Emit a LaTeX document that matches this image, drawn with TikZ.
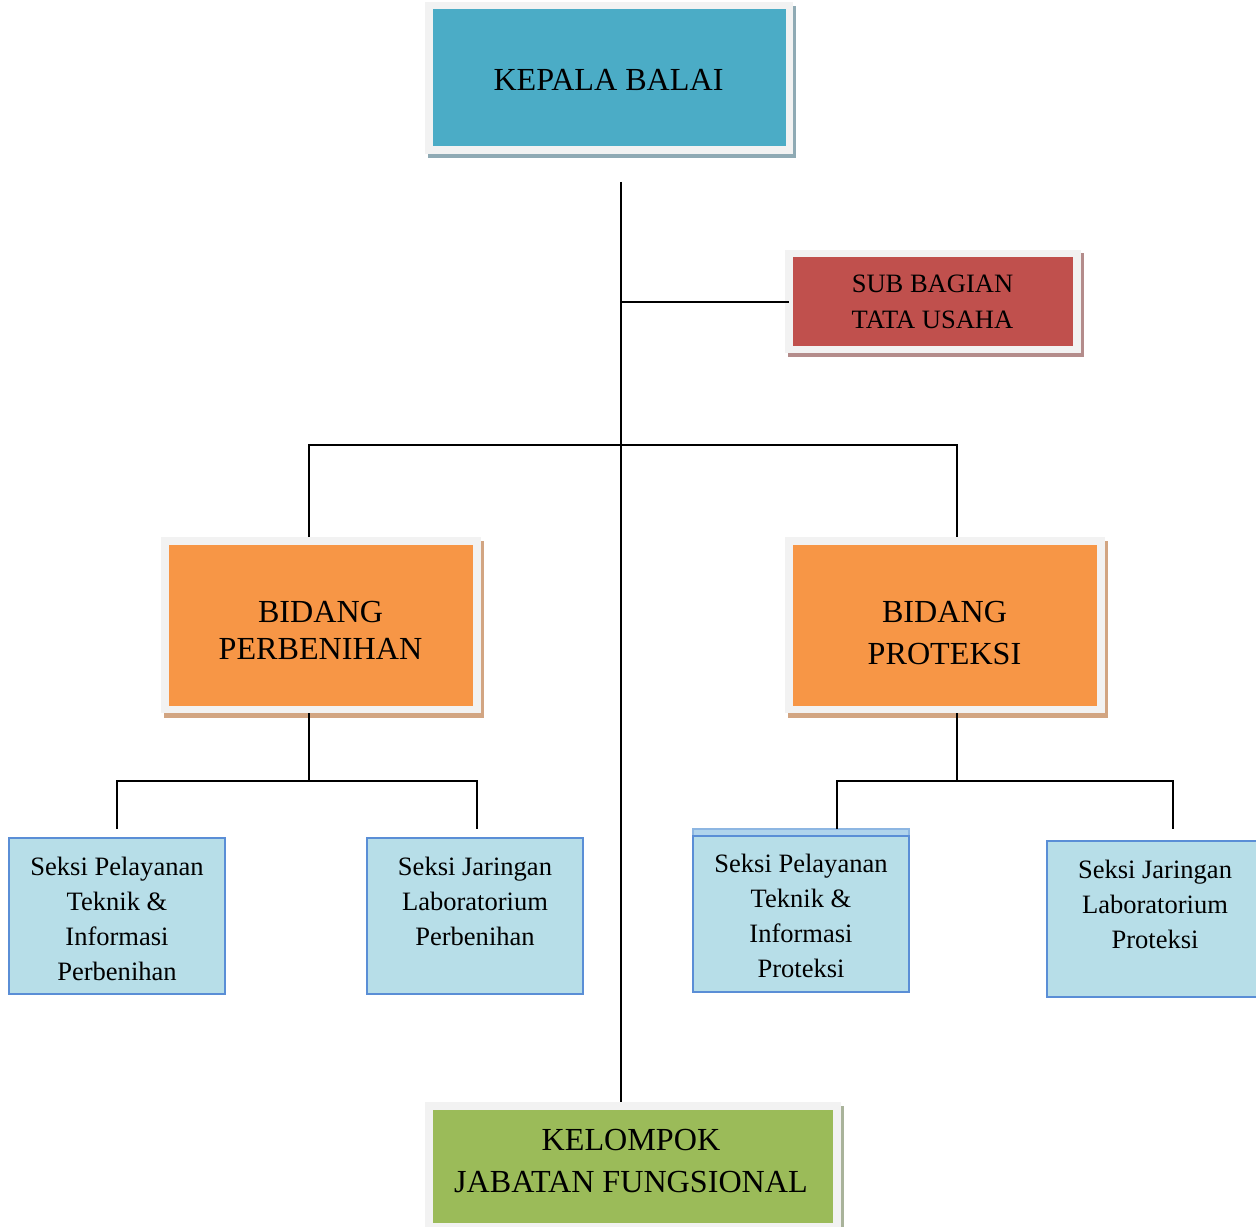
\documentclass[tikz,border=0pt]{standalone}
\usepackage{fontspec}
\setmainfont{Liberation Serif}
\definecolor{framegrey}{HTML}{F2F2F2}
\definecolor{kbblue}{HTML}{4BACC6}
\definecolor{kbshadow}{HTML}{8FAAB4}
\definecolor{sbred}{HTML}{C0504D}
\definecolor{sbshadow}{HTML}{B48C8B}
\definecolor{bdorange}{HTML}{F79646}
\definecolor{bdshadow}{HTML}{D2A582}
\definecolor{kfgreen}{HTML}{9BBB59}
\definecolor{kfshadow}{HTML}{A9B39A}
\definecolor{skfill}{HTML}{B7DEE8}
\definecolor{skborder}{HTML}{5A8ED6}
\definecolor{skband}{HTML}{B0D4EC}
\definecolor{skbandborder}{HTML}{8DB6E2}
\newcommand\mkbox[6]{\node[#6, anchor=north west, minimum width={(#4-#2)*0.75pt}, minimum height={(#5-#3)*0.75pt}] (#1) at (#2,#3) {};}
\begin{document}
\begin{tikzpicture}[x=0.75pt,y=-0.75pt,
  boxbase/.style={inner sep=0pt, outer sep=0pt, rectangle},
  frame/.style={boxbase, fill=framegrey},
  shadowbox/.style={boxbase},
  seksi/.style={boxbase, fill=skfill, draw=skborder, line width=1.5pt},
  bigtext/.style={font=\fontsize{24.1}{27.75}\selectfont, align=center, inner sep=0pt, anchor=base},
  smalltext/.style={font=\fontsize{19.9}{26.25}\selectfont, align=center, inner sep=0pt, anchor=base},
  conn/.style={line width=1.5pt, black}]
\useasboundingbox (0,0) rectangle (1256,1227);

% KEPALA BALAI
\mkbox{kbs}{428}{6}{796}{158}{shadowbox, fill=kbshadow}
\mkbox{kbf}{425}{2}{793}{154}{frame}
\mkbox{kb}{433}{9}{786}{146}{boxbase, fill=kbblue}
\node[bigtext] (kbt) at (608.5,91) {KEPALA BALAI};

% SUB BAGIAN TATA USAHA
\mkbox{sbs}{788}{253}{1084}{357}{shadowbox, fill=sbshadow}
\mkbox{sbf}{785}{250}{1081}{353}{frame}
\mkbox{sb}{793}{257}{1073}{346}{boxbase, fill=sbred}
\node[bigtext, font=\fontsize{19.9}{27}\selectfont] (sbt) at (932.5,328) {SUB BAGIAN\\TATA USAHA};

% BIDANG PERBENIHAN
\mkbox{bps}{164}{541}{484}{718}{shadowbox, fill=bdshadow}
\mkbox{bpf}{161}{537}{481}{713}{frame}
\mkbox{bp}{169}{545}{473}{706}{boxbase, fill=bdorange}
\node[bigtext] (bpt) at (320.5,659) {BIDANG\\PERBENIHAN};

% BIDANG PROTEKSI
\mkbox{brs}{788}{541}{1108}{718}{shadowbox, fill=bdshadow}
\mkbox{brf}{785}{537}{1105}{713}{frame}
\mkbox{br}{793}{545}{1097}{706}{boxbase, fill=bdorange}
\node[bigtext, font=\fontsize{24.1}{31.5}\selectfont] (brt) at (944.5,664) {BIDANG\\PROTEKSI};

% KELOMPOK JABATAN FUNGSIONAL
\mkbox{kfs}{428}{1106}{844}{1232}{shadowbox, fill=kfshadow}
\mkbox{kff}{425}{1102}{841}{1230}{frame}
\mkbox{kf}{433}{1110}{833}{1223}{boxbase, fill=kfgreen}
\node[bigtext, font=\fontsize{24.1}{31.5}\selectfont] (kft) at (631,1192) {KELOMPOK\\JABATAN FUNGSIONAL};

% Seksi boxes
\mkbox{s1}{9}{838}{225}{994}{seksi}
\node[smalltext] (s1t) at (117,980) {Seksi Pelayanan\\Teknik \&\\Informasi\\Perbenihan};
\mkbox{s2}{367}{838}{583}{994}{seksi}
\node[smalltext] (s2t) at (475,945) {Seksi Jaringan\\Laboratorium\\Perbenihan};
\mkbox{s3b}{693}{829}{909}{837}{boxbase, fill=skband, draw=skbandborder, line width=1.5pt}
\mkbox{s3}{693}{836}{909}{992}{seksi}
\node[smalltext] (s3t) at (801,977) {Seksi Pelayanan\\Teknik \&\\Informasi\\Proteksi};
\mkbox{s4}{1047}{841}{1262}{997}{seksi}
\node[smalltext] (s4t) at (1155,948) {Seksi Jaringan\\Laboratorium\\Proteksi};

% connectors
\coordinate (top) at (621,182);
\coordinate (split) at (621,445);
\coordinate (bl) at (309,445);
\coordinate (brc) at (957,445);
\coordinate (lsplit) at (309,781);
\coordinate (rsplit) at (957,781);
\coordinate (l1) at (117,781);
\coordinate (l2) at (477,781);
\coordinate (r1) at (837,781);
\coordinate (r2) at (1173,781);
\coordinate (l1e) at (117,829);
\coordinate (l2e) at (477,829);
\coordinate (r2e) at (1173,829);

\draw[conn] (top) -- (top |- kff.north);
\draw[conn] (top |- sbf.west) -- ([xshift=3pt]sbf.west);
\draw[conn] (bl |- bpf.north) -- (bl) -- (brc) -- (brc |- brf.north);
\draw[conn] (bl |- bpf.south) -- (lsplit);
\draw[conn] (l1e) -- (l1) -- (l2) -- (l2e);
\draw[conn] (rsplit |- brf.south) -- (rsplit);
\draw[conn] (r1 |- s3b.north) -- (r1) -- (r2) -- (r2e);
\end{tikzpicture}
\end{document}
